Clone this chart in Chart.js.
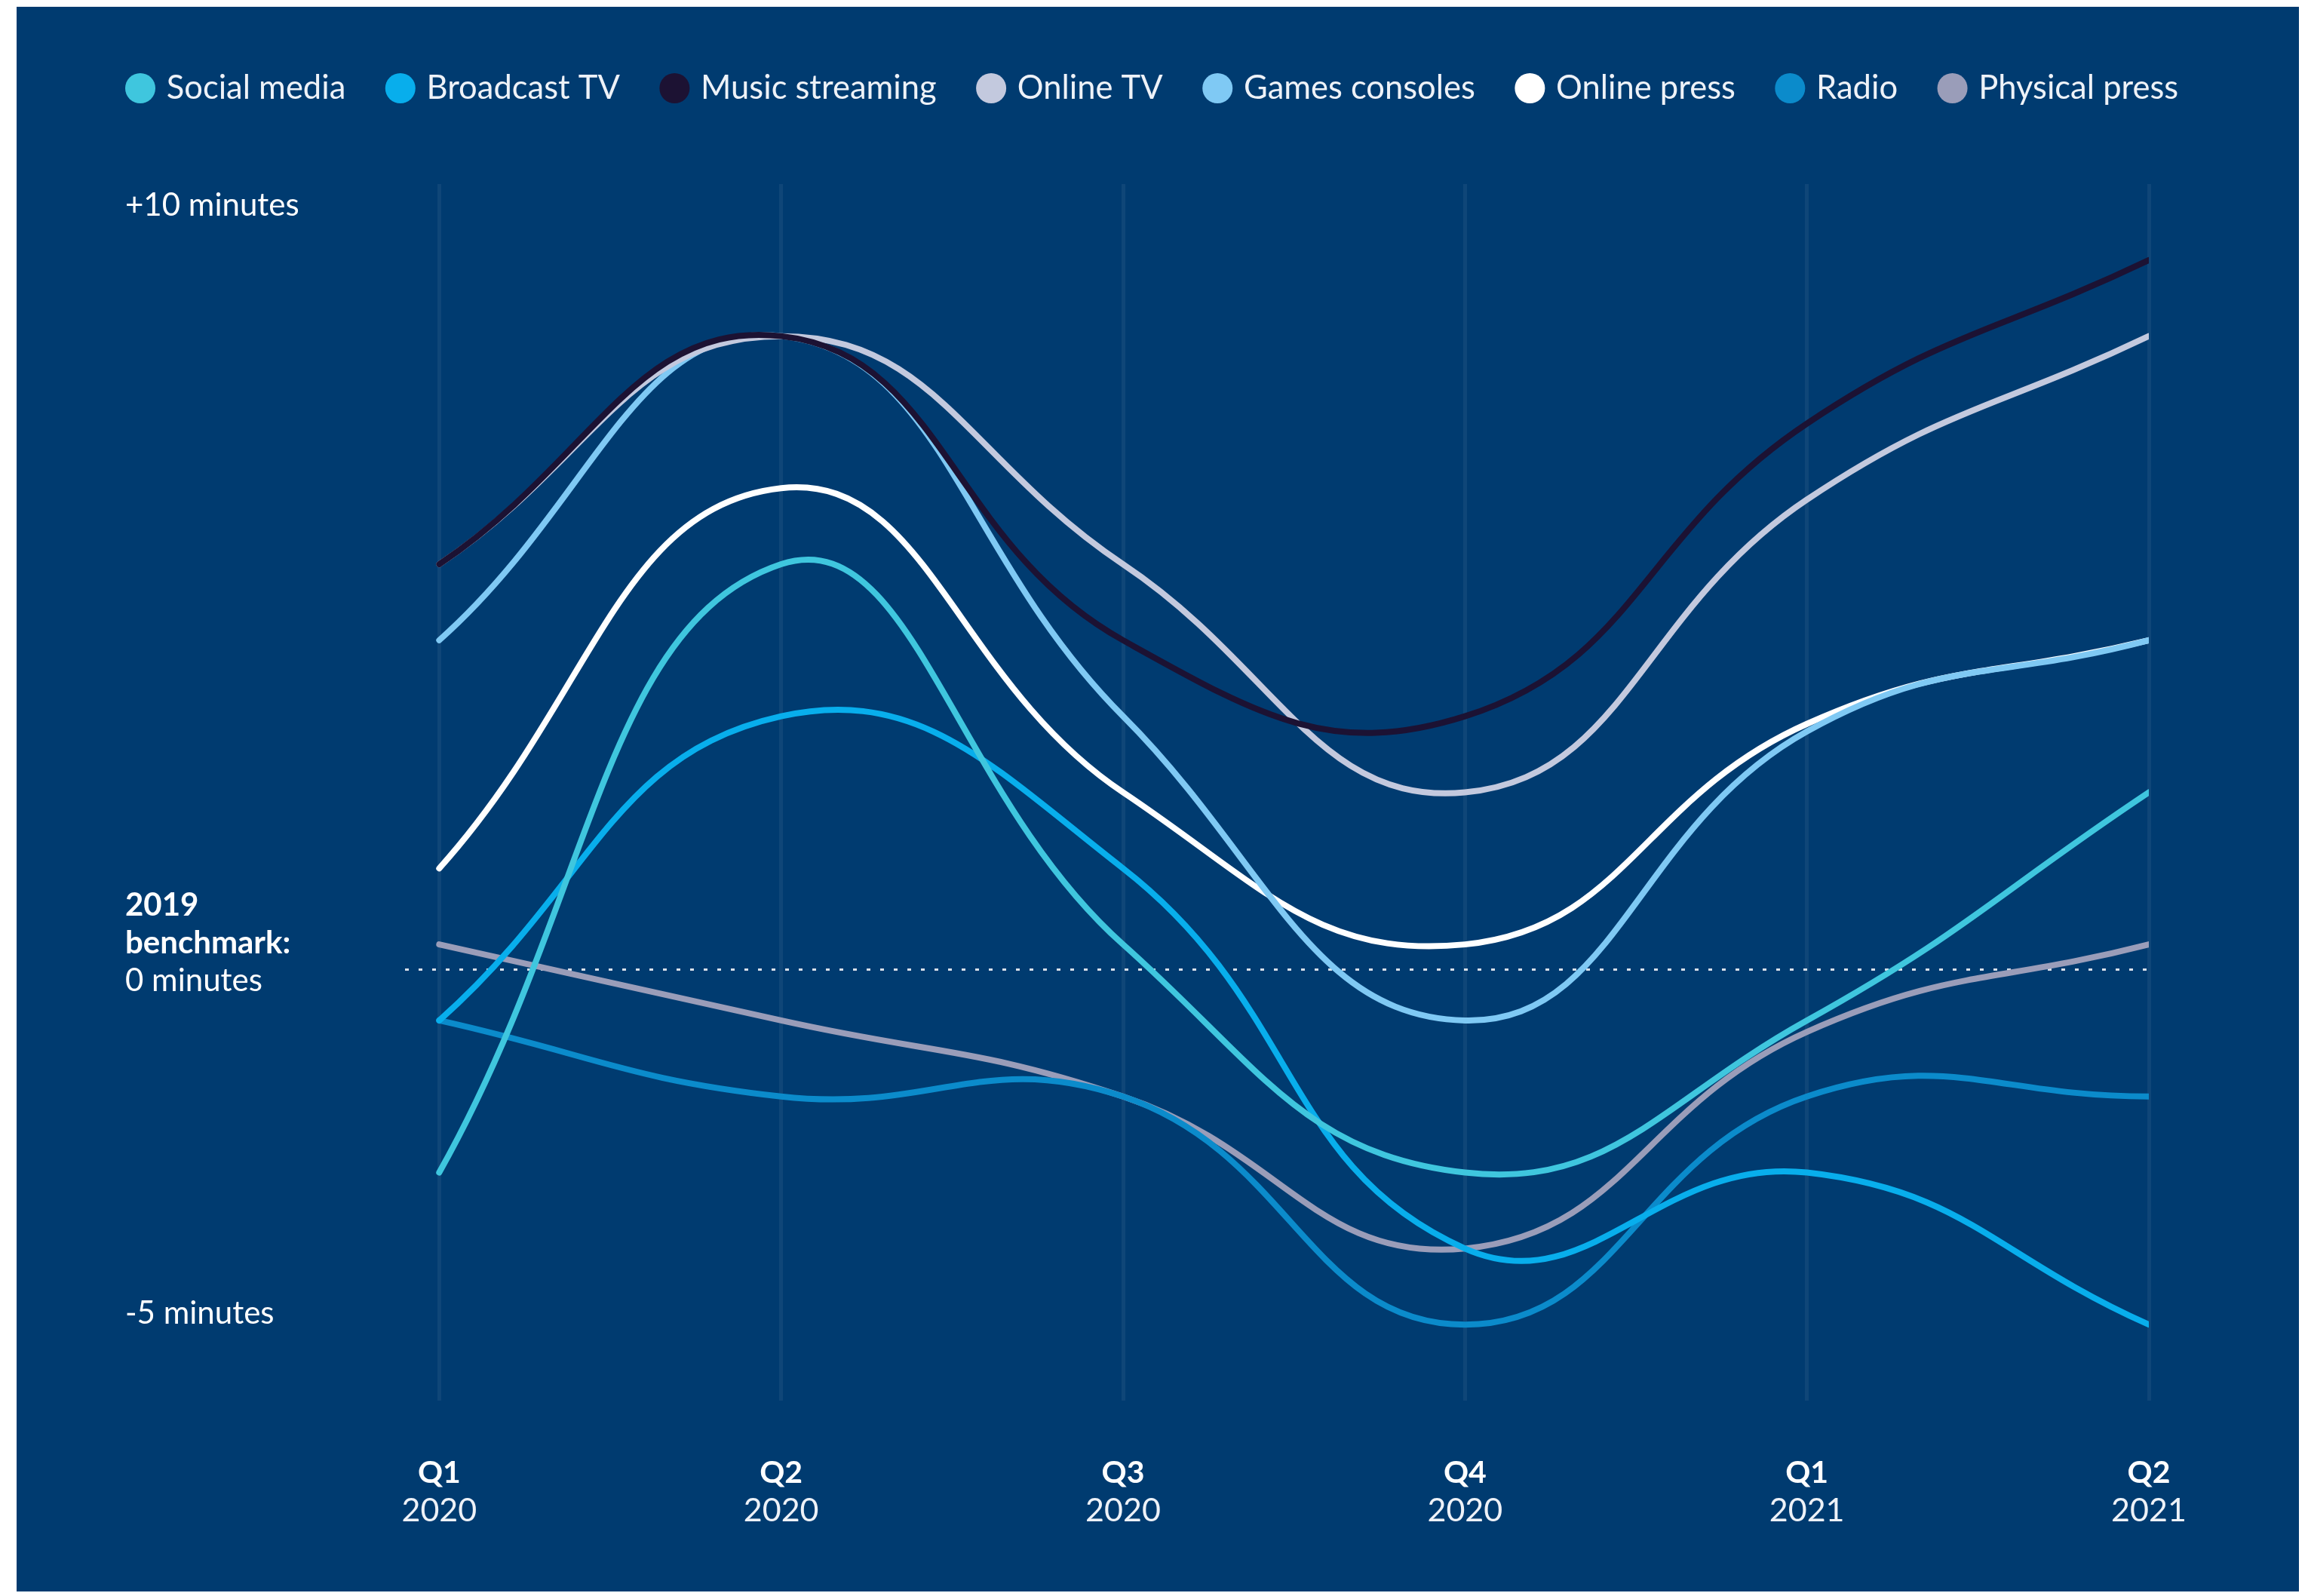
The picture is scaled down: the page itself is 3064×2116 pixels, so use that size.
<!DOCTYPE html>
<html>
<head>
<meta charset="utf-8">
<script src="https://cdn.jsdelivr.net/npm/chart.js@4.4.1/dist/chart.umd.min.js"></script>
<style>
  html, body { margin: 0; padding: 0; background: #ffffff; width: 3064px; height: 2116px; overflow: hidden; }
  #panel { position: absolute; left: 22px; top: 9px; width: 3026px; height: 2101px; background: #003b70; }
  #wrap { position: absolute; left: 0; top: 0; width: 3064px; height: 2116px; }
</style>
</head>
<body>
<div id="panel"></div>
<div id="wrap"><canvas id="chart"></canvas></div>
<script>
// ---- data (minutes vs 2019 benchmark) ----
const quarters = ["Q1", "Q2", "Q3", "Q4", "Q1", "Q2"];
const years = ["2020", "2020", "2020", "2020", "2021", "2021"];

const seriesNames = ["Social media", "Broadcast TV", "Music streaming", "Online TV",
                     "Games consoles", "Online press", "Radio", "Physical press"];

const socialMedia    = [-3, 5, 0, -3, -1, 2];
const broadcastTV    = [-1, 3, 1, -4, -3, -5];
const musicStreaming = [5, 8, 4, 3, 6.85, 9];
const onlineTV       = [5, 8, 5, 2, 5.85, 8];
const gamesConsoles  = [4, 8, 3, -1, 2.8, 4];
const onlinePress    = [1, 6, 2, 0, 2.9, 4];
const radio          = [-1, -2, -2, -5, -2, -2];
const physicalPress  = [0, -1, -2, -4, -1.15, 0];

const seriesValues = [socialMedia, broadcastTV, musicStreaming, onlineTV,
                      gamesConsoles, onlinePress, radio, physicalPress];

const yTickValues = [10, 0, -5];
const yTickLabels = [["+10 minutes"], ["2019", "benchmark:", "0 minutes"], ["-5 minutes"]];
const benchmarkValue = -0.33; // dotted benchmark line, as drawn

// ---- styles ----
const seriesColors = ["#3fc6de", "#08aeec", "#1c1233", "#c3c9de",
                      "#7fc9f4", "#ffffff", "#0b8bcb", "#9a9db9"];
const FONT = "Lato, 'Open Sans', sans-serif";
const TEXT = "#eef2f8";

const datasets = seriesNames.map((name, i) => ({
  label: name,
  data: seriesValues[i].map((v, k) => ({ x: k, y: v })),
  borderColor: seriesColors[i],
  backgroundColor: seriesColors[i],
  borderWidth: 8,
  tension: 0.45,
  pointRadius: 0,
  pointHoverRadius: 0,
  borderCapStyle: "round",
  borderJoinStyle: "round",
  fill: false
}));

const legendBox = {
  id: "legendBox",
  beforeLayout(chart) {
    const lg = chart.legend;
    if (lg && !lg._boxPatched) {
      const orig = lg.fit;
      lg.fit = function () { orig.call(this); this.height = 208.25; };
      lg._boxPatched = true;
    }
  }
};

const yLabels = {
  id: "yLabels",
  afterDraw(chart, args, opts) {
    const { ctx } = chart;
    const ys = chart.scales.y;
    ctx.save();
    ctx.fillStyle = opts.color;
    ctx.textAlign = "left";
    ctx.textBaseline = "middle";
    yTickValues.forEach((v, i) => {
      const lines = yTickLabels[i];
      const cy = ys.getPixelForValue(v) + opts.shift[i];
      lines.forEach((t, j) => {
        ctx.font = (opts.bold[i][j] ? "bold " : "") + opts.size + "px " + FONT;
        ctx.fillText(t, ys.left + opts.inset, cy + (j - (lines.length - 1) / 2) * opts.lineHeight);
      });
    });
    ctx.restore();
  }
};

new Chart(document.getElementById("chart"), {
  type: "line",
  data: { datasets },
  plugins: [legendBox, yLabels],
  options: {
    responsive: true,
    maintainAspectRatio: false,
    animation: false,
    events: [],
    layout: { padding: { left: 113.5, right: 20, top: 35.75, bottom: 91 } },
    plugins: {
      tooltip: { enabled: false },
      legend: {
        position: "top",
        align: "start",
        labels: {
          usePointStyle: true,
          pointStyle: "circle",
          boxWidth: 26,
          boxHeight: 28.3,
          padding: 59.5,
          color: TEXT,
          font: { family: FONT, size: 43.5 },
          generateLabels(chart) {
            return Chart.defaults.plugins.legend.labels.generateLabels(chart)
              .map(it => Object.assign(it, { lineWidth: 0 }));
          }
        }
      },
      yLabels: {
        color: "#ffffff",
        size: 42,
        lineHeight: 50,
        inset: 52.5,
        shift: [28, -2, -15],
        bold: [[false], [true, true, false], [false]]
      }
    },
    scales: {
      x: {
        type: "linear",
        position: "bottom",
        weight: 0,
        min: -0.1,
        max: 5,
        afterBuildTicks: s => { s.ticks = quarters.map((_, i) => ({ value: i })); },
        afterFit: s => { s.height = 119; },
        ticks: {
          callback: (v, i) => quarters[i],
          color: "#ffffff",
          font: { family: FONT, size: 41, weight: "bold" },
          padding: 71,
          maxRotation: 0,
          autoSkip: false
        },
        grid: { color: "rgba(255,255,255,0.06)", lineWidth: 5, drawTicks: false },
        border: { display: false }
      },
      x2: {
        type: "linear",
        position: "bottom",
        weight: 1,
        min: -0.1,
        max: 5,
        afterBuildTicks: s => { s.ticks = years.map((_, i) => ({ value: i })); },
        afterFit: s => { s.height = 49; },
        ticks: {
          callback: (v, i) => years[i],
          color: TEXT,
          font: { family: FONT, size: 43 },
          padding: 1,
          maxRotation: 0,
          autoSkip: false
        },
        grid: { display: false, drawTicks: false },
        border: { display: false }
      },
      y: {
        type: "linear",
        position: "left",
        min: -6,
        max: 10,
        afterBuildTicks: s => { s.ticks = [{ value: benchmarkValue }]; },
        afterFit: s => { s.width = 423.5; },
        ticks: { display: false },
        grid: { color: "rgba(255,255,255,0.85)", lineWidth: 3, drawTicks: false },
        border: { display: false, dash: [5, 13] }
      },
      yRight: {
        type: "linear",
        position: "right",
        afterFit: s => { s.width = 195; },
        ticks: { display: false },
        grid: { display: false, drawTicks: false },
        border: { display: false }
      }
    }
  }
});
</script>
</body>
</html>
